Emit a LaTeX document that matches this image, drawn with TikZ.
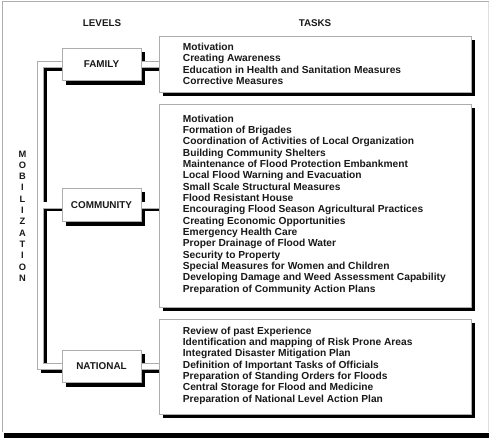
\documentclass[tikz,border=0pt]{standalone}
\usepackage{fontspec}
\setmainfont{Liberation Sans}
\usetikzlibrary{calc}
\pgfdeclarelayer{shadowlayer}
\pgfdeclarelayer{bandlayer}
\pgfsetlayers{shadowlayer,bandlayer,main}
\definecolor{edgegray}{gray}{0.68}
\begin{document}
\begin{tikzpicture}[x=1pt,y=-1pt,
  levelbox/.style={draw=edgegray, fill=white, line width=0.6pt, minimum width=79pt, minimum height=32.5pt, inner sep=0pt, font=\fontsize{9.9}{11}\selectfont\bfseries, text=black!90},
  taskbox/.style={draw=edgegray, fill=white, line width=0.6pt, minimum width=312pt, inner sep=0pt},
  tasktext/.style={anchor=west, align=left, inner sep=0pt, font=\fontsize{10.2}{11.35}\selectfont\bfseries, text=black!90},
  header/.style={inner sep=0pt, font=\fontsize{9.8}{11}\selectfont\bfseries, text=black!90},
  boxshadow/.style={fill=black},
  bandouter/.style={draw=edgegray, line width=7pt, line join=miter},
  bandinner/.style={draw=white, line width=5.6pt, line join=miter},
  bandshadow/.style={draw=black, line width=6pt, line join=miter}
]
\useasboundingbox (0,0) rectangle (489,439);
% outer frame
\draw[edgegray, line width=0.6pt] (2,432) -- (2,1.5) -- (489,1.5);
\draw[edgegray!40, line width=0.5pt] (488,1.5) -- (488,432);
\fill[black] (4,433) rectangle (489,437.5);

% headers
\node[header] (levels) at (102,23) {LEVELS};
\node[header] (tasks) at (315,23) {TASKS};
\node[header, align=center, font=\fontsize{9.3}{11.3}\selectfont\bfseries] (mob) at (22.5,216)
  {M\\O\\B\\I\\L\\I\\Z\\A\\T\\I\\O\\N};

% level boxes
\node[levelbox] (fam) at (101.5,64.5) {FAMILY};
\node[levelbox] (com) at (101.5,205) {COMMUNITY};
\node[levelbox] (nat) at (101.5,366.5) {NATIONAL};

% task boxes
\node[taskbox, minimum height=56pt] (famtask) at (315,64) {};
\node[taskbox, minimum height=203pt] (comtask) at (315,205.5) {};
\node[taskbox, minimum height=95pt] (nattask) at (315,366.5) {};

\node[tasktext] (famtext) at ([xshift=24pt]famtask.west) {Motivation\\Creating Awareness\\Education in Health and Sanitation Measures\\Corrective Measures};
\node[tasktext] (comtext) at ([xshift=24pt,yshift=1pt]comtask.west) {Motivation\\Formation of Brigades\\Coordination of Activities of Local Organization\\Building Community Shelters\\Maintenance of Flood Protection Embankment\\Local Flood Warning and Evacuation\\Small Scale Structural Measures\\Flood Resistant House\\Encouraging Flood Season Agricultural Practices\\Creating Economic Opportunities\\Emergency Health Care\\Proper Drainage of Flood Water\\Security to Property\\Special Measures for Women and Children\\Developing Damage and Weed Assessment Capability\\Preparation of Community Action Plans};
\node[tasktext] (nattext) at ([xshift=24pt,yshift=1pt]nattask.west) {Review of past Experience\\Identification and mapping of Risk Prone Areas\\Integrated Disaster Mitigation Plan\\Definition of Important Tasks of Officials\\Preparation of Standing Orders for Floods\\Central Storage for Flood and Medicine\\Preparation of National Level Action Plan};

\coordinate (rail) at (40.5,0);

% shadows
\begin{pgfonlayer}{shadowlayer}
  \foreach \b in {fam,com,nat,famtask,comtask,nattask}{
    \fill[boxshadow] ($(\b.south west)+(4,4)$) rectangle ($(\b.north east)+(4,4)$);
  }
  \begin{scope}[transform canvas={shift={(3,3)}}]
    \draw[bandshadow] (famtask.west |- fam.center) -- (rail |- fam.center) -- (rail |- nat.center) -- (nattask.west |- nat.center);
    \draw[bandshadow] (rail |- com.center) -- (comtask.west |- com.center);
  \end{scope}
\end{pgfonlayer}

% connector bands
\begin{pgfonlayer}{bandlayer}
  \draw[bandouter] (famtask.west |- fam.center) -- (rail |- fam.center) -- (rail |- nat.center) -- (nattask.west |- nat.center);
  \draw[bandouter] (rail |- com.center) -- (comtask.west |- com.center);
  \draw[bandinner] (famtask.west |- fam.center) -- (rail |- fam.center) -- (rail |- nat.center) -- (nattask.west |- nat.center);
  \draw[bandinner] (rail |- com.center) -- (comtask.west |- com.center);
\end{pgfonlayer}
\end{tikzpicture}
\end{document}
